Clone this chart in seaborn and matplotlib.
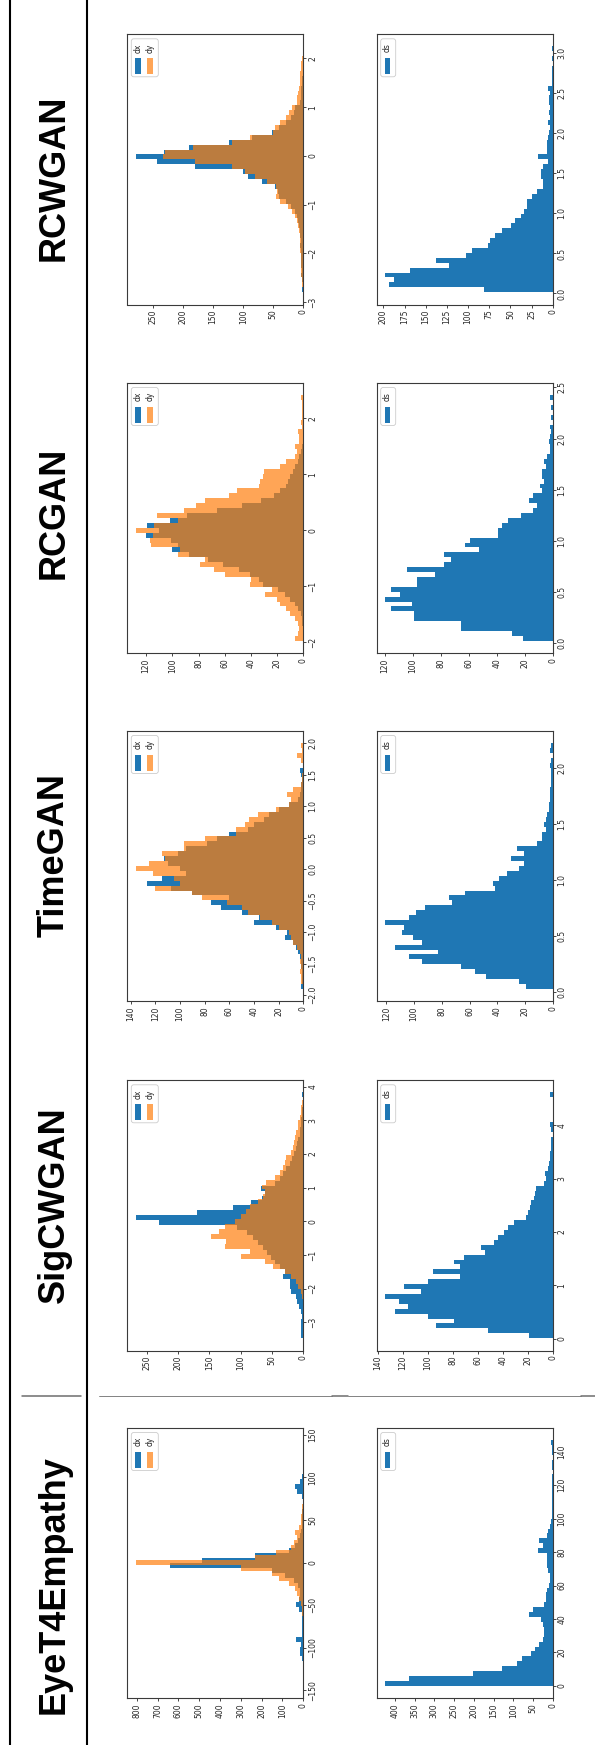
import numpy as np
import pandas as pd
import matplotlib
matplotlib.use("Agg")
import matplotlib.pyplot as plt
import seaborn as sns
from matplotlib.patches import Rectangle, FancyBboxPatch
from matplotlib.lines import Line2D
from matplotlib.ticker import MultipleLocator

# ---------------------------------------------------------------- data
models = ["RCWGAN", "RCGAN", "TimeGAN", "SigCWGAN", "EyeT4Empathy"]

# RCWGAN
rcwgan_dx_range = (-2.8, 2.25)
rcwgan_dx = [2, 1, 2, 3, 2, 3, 3, 4, 4, 5, 4, 5, 6, 7, 9, 11, 14, 20, 28, 40,
             42, 47, 68, 92, 100, 180, 243, 279, 232, 190, 124, 86, 52, 40, 28,
             20, 15, 13, 6, 4, 3, 3, 2, 2, 1, 1, 1, 0, 0, 0]
rcwgan_dy_range = (-2.8, 2.25)
rcwgan_dy = [1, 2, 2, 3, 3, 4, 4, 4, 5, 5, 5, 6, 7, 8, 10, 14, 19, 26, 39, 46,
             43, 46, 60, 80, 97, 118, 180, 234, 231, 184, 118, 88, 51, 47, 39,
             28, 23, 19, 11, 10, 8, 7, 6, 5, 6, 4, 3, 2, 1, 1]
rcwgan_ds_range = (0.016, 3.088)
rcwgan_ds = [81, 193, 188, 198, 169, 123, 138, 103, 95, 77, 74, 68, 60, 49, 44,
             38, 34, 30, 30, 25, 18, 12, 12, 14, 14, 12, 6, 17, 7, 7, 7, 5, 4,
             3, 5, 3, 4, 3, 4, 4, 3, 5, 1, 1, 1, 1, 0, 1, 0, 1]

# RCGAN
rcgan_dx_range = (-1.977, 2.419)
rcgan_dx = [0, 0, 0, 1, 1, 2, 4, 6, 10, 14, 19, 31, 34, 41, 49, 61, 73, 87, 100,
            96, 101, 120, 110, 119, 102, 89, 66, 47, 32, 22, 18, 13, 12, 10, 8,
            6, 4, 3, 2, 1, 0, 0, 0, 0, 0, 0, 0, 0, 0, 0]
rcgan_dy_range = (-1.977, 2.419)
rcgan_dy = [6, 4, 3, 4, 6, 10, 13, 18, 20, 29, 24, 41, 40, 60, 68, 79, 75, 96,
            94, 116, 117, 115, 128, 114, 96, 112, 91, 82, 75, 57, 51, 34, 33,
            31, 30, 18, 13, 6, 5, 6, 3, 3, 4, 1, 2, 1, 1, 1, 1, 2]
rcgan_ds_range = (0.022, 2.426)
rcgan_ds = [21, 29, 66, 66, 99, 99, 116, 101, 120, 109, 116, 97, 97, 84, 104,
            78, 73, 78, 53, 63, 59, 39, 39, 36, 32, 23, 14, 11, 17, 14, 8, 9, 6,
            8, 8, 5, 6, 4, 2, 2, 3, 2, 1, 2, 0, 1, 0, 1, 0, 2]

# TimeGAN
timegan_dx_range = (-1.9, 2.0)
timegan_dx = [2, 1, 1, 1, 2, 2, 3, 4, 6, 8, 15, 13, 22, 40, 36, 50, 67, 75, 60,
              90, 107, 127, 115, 95, 100, 110, 113, 102, 95, 78, 70, 60, 45, 40,
              32, 28, 20, 12, 4, 3, 2, 2, 1, 2, 3, 0, 0, 0, 0, 0]
timegan_dy_range = (-1.9, 2.0)
timegan_dy = [0, 2, 2, 3, 2, 3, 2, 3, 5, 8, 10, 12, 20, 25, 35, 45, 50, 62, 82,
              90, 120, 100, 105, 122, 136, 125, 112, 115, 97, 97, 80, 55, 55, 47,
              44, 37, 22, 12, 10, 13, 8, 2, 1, 1, 0, 0, 2, 5, 1, 2]
timegan_ds_range = (0.027, 2.223)
timegan_ds = [19, 24, 48, 56, 66, 94, 104, 83, 114, 94, 101, 109, 107, 121, 104,
              99, 92, 73, 75, 63, 42, 43, 39, 33, 24, 21, 30, 21, 26, 11, 8, 8,
              5, 6, 5, 4, 3, 3, 2, 2, 2, 1, 1, 1, 1, 2, 1, 0, 2, 1]

# SigCWGAN
sigcwgan_dx_range = (-3.47, 3.83)
sigcwgan_dx = [4, 3, 3, 3, 2, 3, 7, 10, 12, 20, 22, 22, 33, 30, 38, 45, 52, 58,
               64, 72, 80, 90, 106, 231, 268, 170, 113, 84, 66, 62, 67, 45, 38,
               32, 28, 22, 18, 15, 12, 10, 8, 6, 5, 4, 3, 2, 2, 1, 1, 2]
sigcwgan_dy_range = (-2.3, 3.6)
sigcwgan_dy = [2, 4, 8, 12, 20, 30, 48, 62, 100, 85, 125, 124, 147, 135, 125,
               110, 100, 92, 85, 72, 64, 62, 66, 60, 45, 38, 33, 30, 28, 20, 17,
               15, 13, 11, 9, 8, 6, 4, 3, 2]
sigcwgan_ds_range = (0.011, 4.62)
sigcwgan_ds = [19, 52, 93, 79, 100, 126, 116, 123, 134, 105, 119, 100, 74, 96,
               74, 79, 71, 54, 57, 47, 44, 39, 36, 31, 21, 20, 18, 17, 15, 14,
               13, 7, 5, 6, 4, 3, 2, 2, 1, 1, 1, 0, 1, 2, 0, 0, 0, 0, 0, 2]

# EyeT4Empathy (real data)
eyet4_dx_range = (-145.0, 144.0)
eyet4_dx = [1, 1, 2, 3, 3, 8, 15, 18, 10, 35, 8, 5, 4, 5, 8, 20, 35, 22, 15, 18,
            25, 45, 90, 150, 640, 488, 230, 70, 40, 25, 18, 12, 8, 6, 4, 4, 3, 3,
            8, 30, 40, 15, 6, 3, 2, 2, 2, 2, 1, 1]
eyet4_dy_range = (-123.4, 122.6)
eyet4_dy = [1, 1, 1, 2, 2, 2, 2, 3, 3, 3, 5, 8, 12, 20, 28, 40, 70, 115, 150, 300,
            805, 230, 130, 60, 45, 30, 38, 22, 12, 10, 6, 4, 3, 3, 2, 2, 2, 1, 1,
            1, 1]
eyet4_ds_range = (0.0, 147.0)
eyet4_ds = [425, 365, 202, 128, 90, 77, 56, 44, 35, 25, 22, 22, 24, 30, 60, 50,
            22, 18, 16, 14, 10, 8, 8, 12, 14, 14, 14, 38, 24, 35, 14, 12, 6, 4,
            3, 2, 2, 2, 1, 1, 1, 1, 1, 0, 1, 1, 0, 1, 2, 5]

dxdy_data = [
    (rcwgan_dx_range, rcwgan_dx, rcwgan_dy_range, rcwgan_dy),
    (rcgan_dx_range, rcgan_dx, rcgan_dy_range, rcgan_dy),
    (timegan_dx_range, timegan_dx, timegan_dy_range, timegan_dy),
    (sigcwgan_dx_range, sigcwgan_dx, sigcwgan_dy_range, sigcwgan_dy),
    (eyet4_dx_range, eyet4_dx, eyet4_dy_range, eyet4_dy),
]
ds_data = [
    (rcwgan_ds_range, rcwgan_ds),
    (rcgan_ds_range, rcgan_ds),
    (timegan_ds_range, timegan_ds),
    (sigcwgan_ds_range, sigcwgan_ds),
    (eyet4_ds_range, eyet4_ds),
]

# tick steps (value axis, count axis)
dxdy_value_step = [1, 1, 0.5, 1, 50]
dxdy_count_step = [50, 20, 20, 50, 100]
ds_value_step = [0.5, 0.5, 0.5, 1, 20]
ds_count_step = [25, 20, 20, 20, 50]

# ---------------------------------------------------------------- style
sns.set_theme(style="ticks")
plt.rcParams["font.family"] = ["DejaVu Sans"]

W, H = 595, 1745
fig = plt.figure(figsize=(W / 100, H / 100), dpi=100)
fig.patch.set_facecolor("white")

BLUE = "#1f77b4"
ORANGE = "#ff7f0e"
ORANGE_ALPHA = 0.7
TXT = "#262626"

AX_TOPS = [34.0, 382.7, 730.7, 1080.0, 1427.7]
TITLE_CENTERS = [178.0, 513.0, 855.0, 1205.0, 1585.0]
AX_W, AX_H = 176.0, 270.5
LEFT_DXDY, LEFT_DS = 127.3, 376.7


def ax_rect(left, top):
    return [left / W, 1 - (top + AX_H) / H, AX_W / W, AX_H / H]


def draw_hist(ax, rng, counts, color, alpha):
    n = len(counts)
    edges = np.linspace(rng[0], rng[1], n + 1)
    centers = 0.5 * (edges[:-1] + edges[1:])
    df = pd.DataFrame({"value": centers, "count": counts})
    sns.histplot(data=df, y="value", weights="count", bins=n,
                 binrange=(rng[0], rng[1]), ax=ax, color=color, alpha=alpha,
                 edgecolor="none", linewidth=0)


def style_axes(ax, vstep, cstep):
    ax.invert_xaxis()
    ax.yaxis.tick_right()
    ax.yaxis.set_major_locator(MultipleLocator(vstep))
    ax.xaxis.set_major_locator(MultipleLocator(cstep))
    ax.set_xlabel("")
    ax.set_ylabel("")
    ax.tick_params(axis="both", labelsize=5.5, length=2.4, width=0.6, pad=1.2,
                   colors=TXT)
    ax.tick_params(axis="x", labelrotation=90)
    ax.tick_params(axis="y", labelrotation=90, left=False, right=True)
    for t in ax.get_yticklabels():
        t.set_va("center")
    for s in ax.spines.values():
        s.set_visible(True)
        s.set_linewidth(0.8)
        s.set_color("#3a3a3a")


def inch(x, y):
    return x / 100.0, (H - y) / 100.0


def rot_legend(left, top, labels, colors, alphas):
    n = len(labels)
    bx, by = inch(left + 4, top + 4.8 + 38)
    box = FancyBboxPatch((bx, by), (3 + 12 * n) / 100.0, 38 / 100.0,
                         boxstyle="round,pad=0,rounding_size=0.025",
                         transform=fig.dpi_scale_trans, fc=(1, 1, 1, 0.85),
                         ec="#cccccc", lw=0.6, zorder=5)
    fig.add_artist(box)
    for i, (lab, col, al) in enumerate(zip(labels, colors, alphas)):
        tx, ty = inch(left + 10.5 + 12 * i, top + 14)
        fig.text(tx, ty, lab, transform=fig.dpi_scale_trans, rotation=90,
                 ha="center", va="center", fontsize=5.5, color=TXT, zorder=7)
        px, py = inch(left + 8 + 12 * i, top + 40)
        fig.add_artist(Rectangle((px, py), 5.2 / 100.0, 16 / 100.0,
                                 transform=fig.dpi_scale_trans, fc=col,
                                 alpha=al, ec="none", zorder=6))


for i, name in enumerate(models):
    top = AX_TOPS[i]
    # dx / dy histogram
    ax1 = fig.add_axes(ax_rect(LEFT_DXDY, top))
    dxr, dx, dyr, dy = dxdy_data[i]
    draw_hist(ax1, dxr, dx, BLUE, 1.0)
    draw_hist(ax1, dyr, dy, ORANGE, ORANGE_ALPHA)
    style_axes(ax1, dxdy_value_step[i], dxdy_count_step[i])
    rot_legend(LEFT_DXDY, top, ["dx", "dy"], [BLUE, ORANGE], [1.0, ORANGE_ALPHA])

    # ds histogram
    ax2 = fig.add_axes(ax_rect(LEFT_DS, top))
    dsr, ds = ds_data[i]
    draw_hist(ax2, dsr, ds, BLUE, 1.0)
    style_axes(ax2, ds_value_step[i], ds_count_step[i])
    rot_legend(LEFT_DS, top, ["ds"], [BLUE], [1.0])

    # row title
    yc = TITLE_CENTERS[i]
    fig.text(63.5 / W, 1 - yc / H, name, rotation=90, rotation_mode="anchor",
             ha="center", va="baseline", fontsize=26, fontweight="bold",
             family=["Liberation Sans", "DejaVu Sans"], color="black")

# table rules
for x in (9.5, 87.3):
    fig.add_artist(Line2D([x / W, x / W], [0, 1], transform=fig.transFigure,
                          color="black", lw=1.5, zorder=8))
yl = 1 - 1395.5 / H
for x0, x1, lw in [(22, 80.5, 1.1), (99.4, 332, 0.6), (332, 348.4, 1.1),
                   (348.4, 580.6, 0.6), (580.6, 595, 1.1)]:
    fig.add_artist(Line2D([x0 / W, x1 / W], [yl, yl], transform=fig.transFigure,
                          color="#6e6e6e", lw=lw, zorder=8))

fig.savefig("out.png", dpi=100, facecolor="white")
